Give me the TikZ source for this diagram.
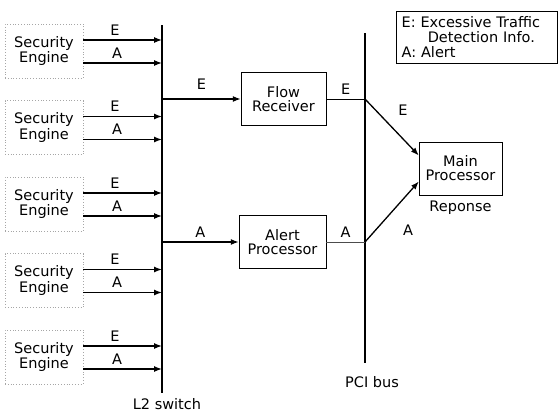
\documentclass[tikz,border=0pt]{standalone}
\usepackage{fontspec}
\setmainfont{DejaVu Sans}
\usetikzlibrary{positioning, arrows.meta}

\begin{document}
\begin{tikzpicture}[
    x=1pt, y=-1pt,
    font=\fontsize{14.5}{14}\selectfont,
    node distance=2pt,
    engine/.style={draw=gray!70, dotted, thick, minimum width=78pt, minimum height=54pt, align=center, inner sep=0pt},
    unit/.style={draw, minimum width=85pt, minimum height=53pt, align=center, inner sep=0pt},
    arrow/.style={-{Latex[length=8pt, width=6pt]}, line width=1.3pt},
    link/.style={semithick},
    bus/.style={line width=1.1pt}
  ]
  \useasboundingbox (0,0) rectangle (558,415);

  \coordinate (swtop) at (162,25);
  \coordinate (swbot) at (162,393);
  \coordinate (pcitop) at (365,33);
  \coordinate (pcibot) at (365,363);
  \draw[bus] (swtop) -- (swbot);
  \draw[bus] (pcitop) -- (pcibot);
  \node[below=2pt of swbot, xshift=5pt] (swlabel) {L2 switch};
  \node[below=10pt of pcibot, xshift=7pt] (pcilabel) {PCI bus};

  \foreach \i in {1,...,5} {
    \node[engine] (se\i) at (44,{51+76.5*(\i-1)}) {Security\\Engine};
    \coordinate (se\i-e) at ([yshift=11pt]se\i.east);
    \coordinate (se\i-a) at ([yshift=-12pt]se\i.east);
    \draw[arrow] (se\i-e) -- (se\i-e -| swtop) node[pos=0.4, above=1pt] (le\i) {E};
    \draw[arrow] (se\i-a) -- (se\i-a -| swtop) node[pos=0.43, above=1pt] (la\i) {A};
  }

  \node[unit] (fr) at (283.5,99) {Flow\\Receiver};
  \node[unit, minimum width=87pt] (ap) at (282.5,242) {Alert\\Processor};
  \node[unit, minimum width=83pt] (mp) at (460.5,168.5) {Main\\Processor};
  \node[below=2pt of mp] (resp) {Reponse};

  \coordinate (pfr) at (fr.east -| pcitop);
  \coordinate (pap) at (ap.east -| pcitop);
  \draw[arrow] (swtop |- fr.west) -- node[above=6pt] (lfe) {E} (fr.west);
  \draw[arrow] (swtop |- ap.west) -- node[above=1pt] (lap) {A} (ap.west);
  \draw[link] (fr.east) -- node[above=1pt] (lpe) {E} (pfr);
  \draw[link, draw=black!70] (ap.east) -- node[above=1pt] (lpa) {A} (pap);
  \draw[arrow] (pfr) -- ([yshift=13pt]mp.west);
  \draw[arrow] (pap) -- ([yshift=-13pt]mp.west);
  \node (lme) at (403,110) {E};
  \node (lma) at (408,230) {A};

  \node[draw, anchor=north west, minimum width=161pt, minimum height=52pt, text width=150pt, align=left, inner sep=5pt, font=\fontsize{14.5}{15}\selectfont] (legend) at (396,11)
    {E: Excessive Traffic\\\hspace{1.8em}Detection Info.\\A: Alert};
\end{tikzpicture}
\end{document}
